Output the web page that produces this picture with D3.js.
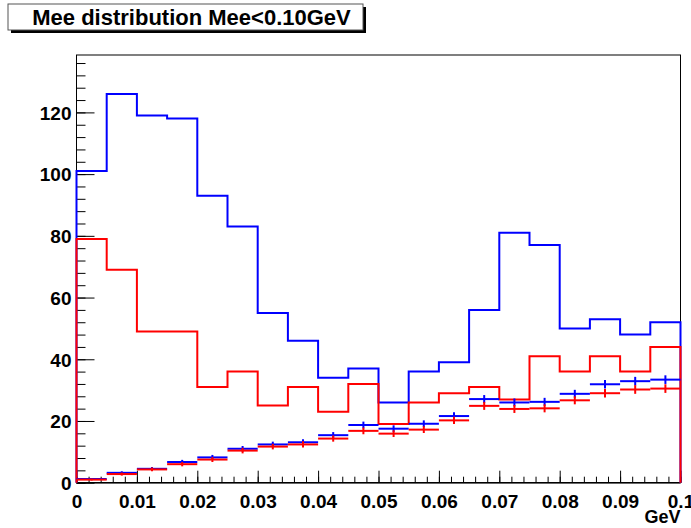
<!DOCTYPE html>
<html>
<head>
<meta charset="utf-8">
<script src="https://cdn.jsdelivr.net/npm/d3@7"></script>
<style>
  html, body { margin: 0; padding: 0; background: #fff; }
  svg { display: block; }
  text { font-family: "Liberation Sans", Arial, Helvetica, sans-serif; font-weight: bold; }
</style>
</head>
<body>
<svg id="chart" width="691" height="528"></svg>
<script>
// Bin low edges (GeV), width 0.005
const binEdges = [0, 0.005, 0.010, 0.015, 0.020, 0.025, 0.030, 0.035, 0.040, 0.045,
                  0.050, 0.055, 0.060, 0.065, 0.070, 0.075, 0.080, 0.085, 0.090, 0.095];
const binWidth = 0.005;

// Histogram outlines
const blueHist = [101, 126, 119, 118, 93, 83, 55, 46, 34, 37,
                  26, 36, 39, 56, 81, 77, 50, 53, 48, 52];
const redHist  = [79, 69, 49, 49, 31, 36, 25, 31, 23, 32,
                  19, 26, 29, 31, 27, 41, 36, 41, 36, 44];

// Points with error bars
const bluePts = [1.2, 3.2, 4.5, 6.7, 8.2, 11.0, 12.4, 13.1, 15.4, 18.7,
                 17.5, 19.1, 21.6, 27.1, 26.0, 26.2, 28.8, 31.9, 32.9, 33.4];
const blueErr = [0.3, 0.5, 0.6, 0.7, 0.8, 0.9, 0.9, 1.0, 1.0, 1.1,
                 1.1, 1.1, 1.2, 1.3, 1.3, 1.3, 1.3, 1.4, 1.4, 1.4];
const redPts  = [1.0, 2.8, 4.3, 6.0, 7.5, 10.4, 11.7, 12.4, 14.3, 16.8,
                 15.9, 17.2, 20.2, 24.9, 23.9, 24.1, 26.7, 29.0, 30.2, 30.5];
const redErr  = [0.3, 0.5, 0.6, 0.7, 0.8, 0.9, 0.9, 1.0, 1.0, 1.1,
                 1.1, 1.1, 1.2, 1.3, 1.3, 1.3, 1.3, 1.4, 1.4, 1.4];

const xTickValues = [0, 0.01, 0.02, 0.03, 0.04, 0.05, 0.06, 0.07, 0.08, 0.09, 0.1];
const xTickLabels = ["0", "0.01", "0.02", "0.03", "0.04", "0.05", "0.06", "0.07", "0.08", "0.09", "0.1"];
const yTickValues = [0, 20, 40, 60, 80, 100, 120];
const yTickLabels = ["0", "20", "40", "60", "80", "100", "120"];

const titleText = "Mee distribution Mee<0.10GeV";
const xAxisTitle = "GeV";

(function draw() {
  const svg = d3.select("#chart");

  const frameL = 76.5, frameR = 680.5, frameT = 55, frameB = 482.7;
  const x = d3.scaleLinear().domain([0, 0.1]).range([frameL, frameR]);
  const y = d3.scaleLinear().domain([0, 138.6]).range([frameB, frameT]);

  // Frame
  svg.append("rect")
    .attr("x", frameL).attr("y", frameT)
    .attr("width", frameR - frameL).attr("height", frameB - frameT)
    .attr("fill", "none").attr("stroke", "#000").attr("stroke-width", 1);

  // Y axis: major + minor ticks pointing inward
  const yMinor = d3.range(0, 137, 4);
  const yAxisMinor = d3.axisLeft(y).tickValues(yMinor).tickSize(-9).tickFormat("");
  const yAxisMajor = d3.axisLeft(y).tickValues(yTickValues).tickSize(-18)
    .tickFormat((d, i) => yTickLabels[i]);

  const gyMinor = svg.append("g").attr("transform", `translate(${frameL},0)`).call(yAxisMinor);
  const gyMajor = svg.append("g").attr("transform", `translate(${frameL},0)`).call(yAxisMajor);
  [gyMinor, gyMajor].forEach(g => {
    g.select(".domain").remove();
    g.selectAll("line").attr("stroke", "#000").attr("stroke-width", 1);
  });
  gyMajor.selectAll("text")
    .attr("x", -5).attr("dy", "0.36em")
    .attr("font-size", 19).attr("fill", "#000");

  // X axis: major + minor ticks pointing upward
  const xMinor = d3.range(0, 101, 2).map(v => v / 1000);
  const xAxisMinor = d3.axisBottom(x).tickValues(xMinor).tickSize(-6).tickFormat("");
  const xAxisMajor = d3.axisBottom(x).tickValues(xTickValues).tickSize(-12)
    .tickFormat((d, i) => xTickLabels[i]);

  const gxMinor = svg.append("g").attr("transform", `translate(0,${frameB})`).call(xAxisMinor);
  const gxMajor = svg.append("g").attr("transform", `translate(0,${frameB})`).call(xAxisMajor);
  [gxMinor, gxMajor].forEach(g => {
    g.select(".domain").remove();
    g.selectAll("line").attr("stroke", "#000").attr("stroke-width", 1);
  });
  gxMajor.selectAll("text")
    .attr("y", 25).attr("dy", 0)
    .attr("font-size", 19).attr("fill", "#000");

  // Axis lines
  svg.append("line").attr("x1", frameL).attr("x2", frameL).attr("y1", frameT).attr("y2", frameB)
    .attr("stroke", "#000").attr("stroke-width", 1);
  svg.append("line").attr("x1", frameL).attr("x2", frameR).attr("y1", frameB).attr("y2", frameB)
    .attr("stroke", "#000").attr("stroke-width", 1.5);

  // X axis title
  svg.append("text")
    .attr("x", frameR).attr("y", 523)
    .attr("text-anchor", "end")
    .attr("font-size", 18).attr("fill", "#000")
    .text(xAxisTitle);

  // Step histogram outline
  function histPoints(vals) {
    const pts = [[x(binEdges[0]), y(0)]];
    vals.forEach((v, i) => {
      pts.push([x(binEdges[i]), y(v)]);
      pts.push([x(binEdges[i] + binWidth), y(v)]);
    });
    pts.push([x(binEdges[binEdges.length - 1] + binWidth), y(0)]);
    return pts;
  }
  const line = d3.line();

  function drawHist(vals, color) {
    svg.append("path")
      .attr("d", line(histPoints(vals)))
      .attr("fill", "none")
      .attr("stroke", color)
      .attr("stroke-width", 2)
      .attr("stroke-linejoin", "miter");
  }

  function drawPoints(vals, errs, color) {
    const g = svg.append("g").attr("stroke", color).attr("stroke-width", 2);
    g.selectAll("line.h").data(vals).join("line").attr("class", "h")
      .attr("x1", (d, i) => x(binEdges[i]))
      .attr("x2", (d, i) => x(binEdges[i] + binWidth))
      .attr("y1", d => y(d)).attr("y2", d => y(d));
    g.selectAll("line.v").data(vals).join("line").attr("class", "v")
      .attr("x1", (d, i) => x(binEdges[i] + binWidth / 2))
      .attr("x2", (d, i) => x(binEdges[i] + binWidth / 2))
      .attr("y1", (d, i) => y(d - errs[i]))
      .attr("y2", (d, i) => y(d + errs[i]));
  }

  drawHist(blueHist, "#0000ff");
  drawHist(redHist, "#ff0000");
  drawPoints(bluePts, blueErr, "#0000ff");
  drawPoints(redPts, redErr, "#ff0000");

  // Title box with shadow
  const tb = { x: 8, y: 4, w: 355, h: 26 };
  svg.append("rect")
    .attr("x", tb.x + 3).attr("y", tb.y + 3).attr("width", tb.w).attr("height", tb.h)
    .attr("fill", "#000");
  svg.append("rect")
    .attr("x", tb.x).attr("y", tb.y).attr("width", tb.w).attr("height", tb.h)
    .attr("fill", "#fff").attr("stroke", "#555").attr("stroke-width", 1);
  svg.append("text")
    .attr("x", tb.x + tb.w / 2 + 6).attr("y", 25)
    .attr("text-anchor", "middle")
    .attr("font-size", 22).attr("fill", "#000")
    .text(titleText);
})();
</script>
</body>
</html>
